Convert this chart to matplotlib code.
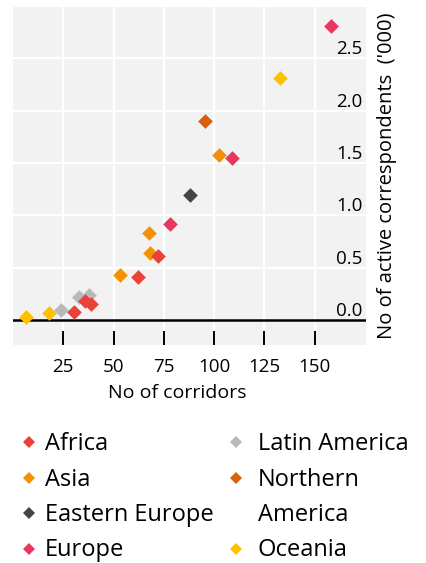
"""Corridors vs active correspondents, by region"""

import matplotlib.pyplot as plt
from matplotlib.lines import Line2D

plt.rcParams["font.family"] = ["Open Sans", "DejaVu Sans"]

# region -> (no of corridors, active correspondents in '000)
regions = ["Africa", "Asia", "Eastern Europe", "Europe",
           "Latin America", "Northern America", "Oceania"]
colors = {
    "Africa": "#E8423A",
    "Asia": "#F39200",
    "Eastern Europe": "#454545",
    "Europe": "#E8365D",
    "Latin America": "#B9B9B9",
    "Northern America": "#D9600A",
    "Oceania": "#FFC000",
}
corridors = {
    "Africa": [30.1, 35.9, 38.8, 62.1, 71.9],
    "Asia": [53.3, 67.6, 68.2, 102.4],
    "Eastern Europe": [88.1],
    "Europe": [78.0, 108.8, 158.2],
    "Latin America": [23.9, 32.8, 37.6],
    "Northern America": [95.6],
    "Oceania": [6.5, 18.0, 132.5],
}
correspondents = {
    "Africa": [0.08, 0.18, 0.15, 0.41, 0.61],
    "Asia": [0.43, 0.83, 0.64, 1.58],
    "Eastern Europe": [1.19],
    "Europe": [0.92, 1.55, 2.81],
    "Latin America": [0.09, 0.22, 0.24],
    "Northern America": [1.90],
    "Oceania": [0.03, 0.07, 2.31],
}
draw_order = ["Oceania", "Latin America", "Northern America", "Asia",
              "Eastern Europe", "Africa", "Europe"]
x_ticks = [25, 50, 75, 100, 125, 150]
y_ticks = [0.0, 0.5, 1.0, 1.5, 2.0, 2.5]

fig = plt.figure(figsize=(4.27, 5.63), dpi=100)
ax = fig.add_axes([13 / 427, 1 - 345 / 563, 353 / 427, 338 / 563])
ax.set_facecolor("#F2F2F2")
for side in ax.spines.values():
    side.set_visible(False)

ax.set_xlim(0, 175.5)
ax.set_ylim(-0.24, 2.99)

# grid
for x in x_ticks:
    ax.axvline(x, color="white", lw=1.6, zorder=1)
for y in y_ticks[1:]:
    ax.axhline(y, color="white", lw=1.6, zorder=1)
ax.axhline(0, color="black", lw=1.8, zorder=2)

for region in draw_order:
    ax.scatter(corridors[region], correspondents[region], marker="D",
               s=56, color=colors[region], linewidths=0, zorder=3)

ax.set_xticks(x_ticks)
ax.set_xticklabels([str(t) for t in x_ticks])
ax.tick_params(axis="x", direction="in", length=10, width=1.4,
               color="black", pad=9, labelsize=13.5)

ax.yaxis.set_ticks_position("right")
ax.set_yticks(y_ticks)
ax.set_yticklabels([f"{t:.1f}" for t in y_ticks])
ax.tick_params(axis="y", length=0, pad=-2.5, labelsize=13.5)
for lab in ax.get_yticklabels():
    lab.set_horizontalalignment("right")
    lab.set_verticalalignment("bottom")

ax.set_xlabel("No of corridors", fontsize=14, labelpad=4)
ax.xaxis.set_label_coords(0.465, -0.115)
ax.yaxis.set_label_position("right")
ax.set_ylabel("No of active correspondents  ('000)", fontsize=14.5,
              rotation=90, labelpad=8)

# legend laid out in two columns
legend_cols = [
    (["Africa", "Asia", "Eastern Europe", "Europe"],
     ["Africa", "Asia", "Eastern Europe", "Europe"]),
    (["Latin America", "Northern America", "Oceania"],
     ["Latin America", "Northern\nAmerica", "Oceania"]),
]
col_x = [(29, 45), (236, 258)]
row_step = 35.5
first_base = 450
for (names, labels), (mx, tx) in zip(legend_cols, col_x):
    row = 0
    for name, label in zip(names, labels):
        base = first_base + row * row_step
        fig.add_artist(Line2D([mx / 427], [1 - (base - 8) / 563],
                              marker="D", markersize=6.6, linestyle="none",
                              color=colors[name], markeredgewidth=0,
                              transform=fig.transFigure))
        lines = label.split("\n")
        for i, line in enumerate(lines):
            fig.text(tx / 427, 1 - (base + i * row_step) / 563, line,
                     fontsize=17, va="baseline", ha="left")
        row += len(lines)

fig.savefig("out.png", dpi=100)
